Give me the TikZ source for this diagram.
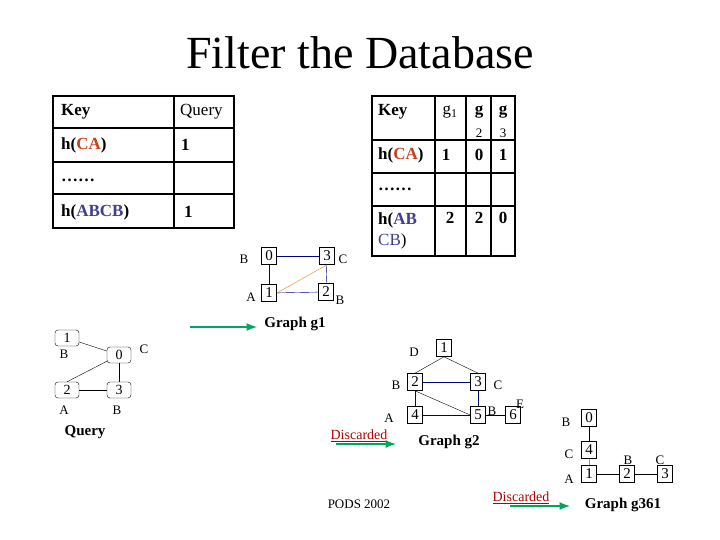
\documentclass[tikz,border=0pt]{standalone}
\usepackage{fontspec}
\setmainfont{Liberation Serif}
\begin{document}
\begin{tikzpicture}[x=1pt,y=-1pt,
  vx/.style={draw,semithick,minimum width=15pt,minimum height=17pt,inner sep=0pt,font=\fontsize{15}{15}\selectfont},
  qv/.style={draw,rounded corners=3pt,minimum width=24pt,minimum height=16pt,inner sep=0pt,font=\fontsize{14}{14}\selectfont},
  lab/.style={font=\fontsize{13}{13}\selectfont,inner sep=0pt},
  txt/.style={font=\fontsize{17}{17}\selectfont,inner sep=0pt},
  btxt/.style={font=\bfseries\fontsize{17}{17}\selectfont,inner sep=0pt},
  gtxt/.style={font=\bfseries\fontsize{15}{15}\selectfont,inner sep=0pt},
  ge/.style={draw=blue!50!black},
  oe/.style={draw=orange!70!brown},
  garrow/.style={-latex,line width=2.5pt,draw=teal!70!green},
  disc/.style={font=\fontsize{14}{14}\selectfont,text=red!70!black,inner sep=0pt}]
\useasboundingbox (0,0) rectangle (720,540);
\definecolor{rd}{HTML}{C8401E}
\definecolor{bl}{HTML}{3F3F90}
\node[font=\fontsize{46}{46}\selectfont] (title) at (360,53) {Filter the Database};
% left table
\draw[line width=1.5pt] (53,96) rectangle (234,228);
\foreach \y in {128,162,194} \draw[line width=1.5pt] (53,\y) -- (234,\y);
\draw[line width=1.5pt] (174,96) -- (174,228);
\node[btxt,anchor=west] (k1) at (61,112) {Key};
\node[txt,anchor=west] (q1) at (180,112) {Query};
\node[btxt,anchor=west] (r1) at (61,145) {h(\textcolor{rd}{CA})};
\node[btxt,anchor=west] (r1v) at (181,145) {1};
\node[btxt,anchor=west] (r2) at (61,180) {\dots\dots};
\node[btxt,anchor=west] (r3) at (61,212) {h(\textcolor{bl}{ABCB})};
\node[btxt,anchor=west] (r3v) at (184,212) {1};
% right table
\draw[line width=1.5pt] (372,96) rectangle (515,256);
\foreach \y in {140,173,206} \draw[line width=1.5pt] (372,\y) -- (515,\y);
\foreach \x in {435,466,491} \draw[line width=1.5pt] (\x,96) -- (\x,256);
\node[btxt,anchor=west] (k2) at (378,112) {Key};
\node[txt] (g1h) at (450,112) {g\textsubscript{1}};
\node[btxt] (g2h) at (479,112) {g};
\node[lab] (g2s) at (479,133) {2};
\node[btxt] (g3h) at (503,112) {g};
\node[lab] (g3s) at (503,133) {3};
\node[btxt,anchor=west] (s1) at (378,155) {h(\textcolor{rd}{CA})};
\node[btxt] (s1a) at (446,155) {1};
\node[btxt] (s1b) at (479,155) {0};
\node[btxt] (s1c) at (503,155) {1};
\node[btxt,anchor=west] (s2) at (378,189) {\dots\dots};
\node[btxt,anchor=west] (s3) at (378,220) {h(\textcolor{bl}{AB}};
\node[txt,anchor=west,text=bl] (s3b) at (378,241) {CB\textcolor{black}{)}};
\node[btxt] (s3x) at (450,218) {2};
\node[btxt] (s3y) at (479,218) {2};
\node[btxt] (s3z) at (503,218) {0};
% graph g1
\node[vx] (a0) at (269,256) {0};
\node[vx] (a3) at (327,256) {3};
\node[vx] (a1) at (269,293) {1};
\node[vx] (a2) at (326,292) {2};
\node[lab] (la0) at (244,259) {B};
\node[lab] (la3) at (343,259) {C};
\node[lab] (la1) at (251,297) {A};
\node[lab] (la2) at (340,300) {B};
\draw[ge] (a0) -- (a3);
\draw[ge] (a0) -- (a1);
\draw[ge] (a3) -- (a2);
\draw[ge] (a1) -- (a2);
\draw[oe] (a1.east) -- (a3.south);
\coordinate (ar1s) at (190,327);
\coordinate (ar1e) at (257,327);
\draw[garrow] (ar1s) -- (ar1e);
\node[gtxt] (gg1) at (295,324) {Graph g1};
% query
\node[qv] (q1v) at (67,338) {1};
\node[qv] (q0v) at (119,355) {0};
\node[qv] (q2v) at (67,390) {2};
\node[qv] (q3v) at (119,390) {3};
\node[lab] (lq1) at (64,354) {B};
\node[lab] (lq0) at (144,349) {C};
\node[lab] (lq2) at (64,410) {A};
\node[lab] (lq3) at (117,410) {B};
\draw (q1v) -- (q0v);
\draw (q0v) -- (q2v.north);
\draw (q0v) -- (q3v);
\draw (q2v) -- (q3v);
\node[gtxt] (qq) at (85,432) {Query};
% graph g2
\node[vx] (b1) at (444,348) {1};
\node[vx] (b2) at (415,382) {2};
\node[vx] (b3) at (478,382) {3};
\node[vx] (b4) at (415,415) {4};
\node[vx] (b5) at (478,415) {5};
\node[vx] (b6) at (513,415) {6};
\node[lab] (lb1) at (414,352) {D};
\node[lab] (lb2) at (396,385) {B};
\node[lab] (lb3) at (498,385) {C};
\node[lab] (lb4) at (389,418) {A};
\node[lab] (lb5) at (492,411) {B};
\node[lab] (lb6) at (520,404) {E};
\draw (b1.south) -- (b2.north);
\draw (b1.south) -- (b3.north);
\draw[ge] (b2) -- (b3);
\draw[ge] (b2) -- (b4);
\draw (b2.south) -- (b5.west);
\draw[ge] (b3) -- (b5);
\draw[ge] (b4) -- (b5);
\draw (b5) -- (b6);
\node[disc] (d1) at (359,436) {\underline{Discarded}};
\coordinate (ar2s) at (336,444);
\coordinate (ar2e) at (396,444);
\draw[garrow] (ar2s) -- (ar2e);
\node[gtxt] (gg2) at (449,442) {Graph g2};
% graph g361
\node[vx] (c0) at (589,418) {0};
\node[vx] (c4) at (589,450) {4};
\node[vx] (c1) at (589,474) {1};
\node[vx] (c2) at (627,474) {2};
\node[vx] (c3) at (665,474) {3};
\node[lab] (lc0) at (566,422) {B};
\node[lab] (lc4) at (569,454) {C};
\node[lab] (lc1) at (569,479) {A};
\node[lab] (lc2) at (628,460) {B};
\node[lab] (lc3) at (660,460) {C};
\draw (c0) -- (c4);
\draw[oe] (c4) -- (c1);
\draw (c1) -- (c2);
\draw (c2) -- (c3);
\node[disc] (d2) at (521,498) {\underline{Discarded}};
\coordinate (ar3s) at (510,506);
\coordinate (ar3e) at (570,506);
\draw[garrow] (ar3s) -- (ar3e);
\node[gtxt] (gg3) at (623,505) {Graph g361};
\node[lab] (pods) at (359,504) {PODS 2002};
\end{tikzpicture}
\end{document}
